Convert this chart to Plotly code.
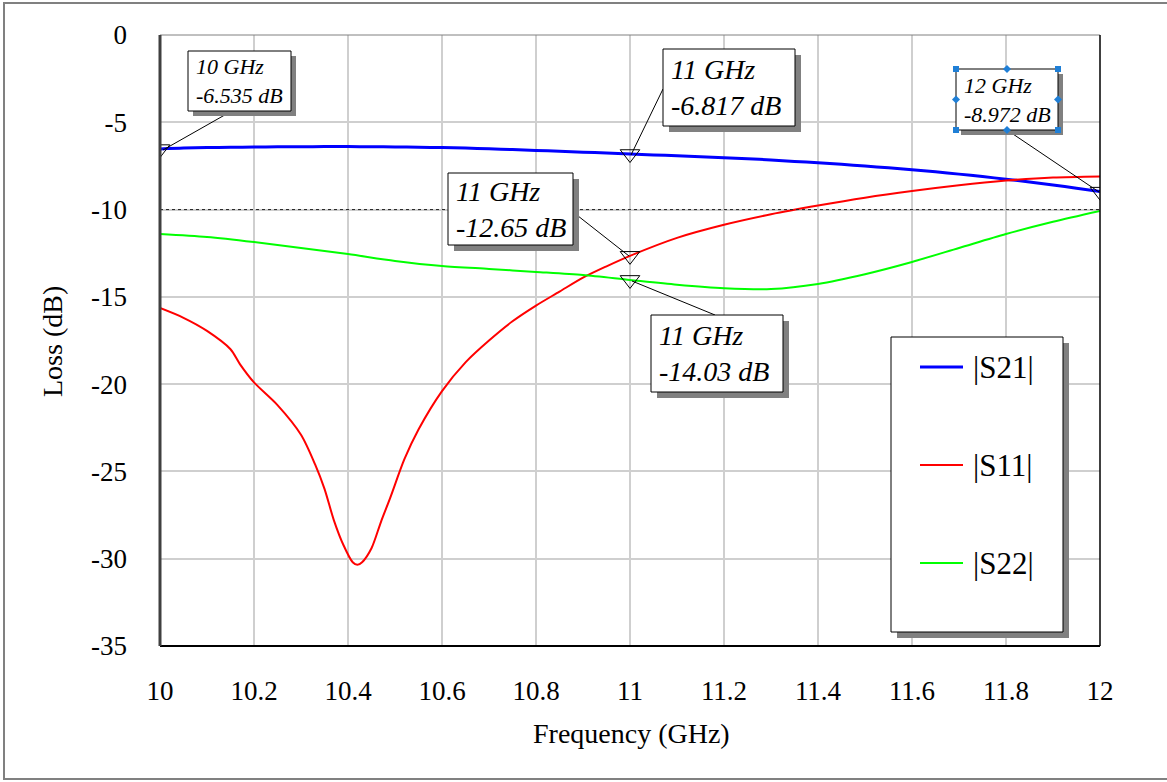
import plotly.graph_objects as go

# ---------------- data ----------------
freq_s21 = [10.00, 10.05, 10.10, 10.15, 10.20, 10.25, 10.30, 10.35, 10.40, 10.45, 10.50,
            10.55, 10.60, 10.65, 10.70, 10.75, 10.80, 10.85, 10.90, 10.95, 11.00,
            11.05, 11.10, 11.15, 11.20, 11.25, 11.30, 11.35, 11.40, 11.45, 11.50,
            11.55, 11.60, 11.65, 11.70, 11.75, 11.80, 11.85, 11.90, 11.95, 12.00]
s21_db = [-6.535, -6.48, -6.45, -6.43, -6.42, -6.40, -6.40, -6.39, -6.39, -6.40, -6.41,
          -6.43, -6.45, -6.48, -6.52, -6.56, -6.61, -6.66, -6.71, -6.76, -6.817,
          -6.87, -6.92, -6.97, -7.03, -7.09, -7.16, -7.24, -7.32, -7.41, -7.51,
          -7.61, -7.72, -7.84, -7.97, -8.11, -8.26, -8.42, -8.59, -8.78, -8.972]

freq_s11 = [10.00, 10.05, 10.10, 10.15, 10.17, 10.20, 10.25, 10.30, 10.33, 10.35, 10.37,
            10.39, 10.41, 10.42, 10.43, 10.45, 10.47, 10.49, 10.52, 10.55, 10.60,
            10.65, 10.70, 10.75, 10.80, 10.85, 10.90, 10.95, 11.00, 11.10, 11.20,
            11.30, 11.40, 11.50, 11.60, 11.70, 11.80, 11.90, 12.00]
s11_db = [-15.64, -16.2, -16.95, -18.0, -18.85, -19.9, -21.2, -22.9, -24.6, -26.0, -27.8,
          -29.2, -30.2, -30.35, -30.2, -29.4, -27.9, -26.5, -24.3, -22.6, -20.4,
          -18.75, -17.5, -16.4, -15.5, -14.7, -13.9, -13.25, -12.65, -11.62, -10.87,
          -10.27, -9.77, -9.32, -8.94, -8.61, -8.34, -8.16, -8.1]

freq_s22 = [10.0, 10.1, 10.2, 10.3, 10.4, 10.5, 10.6, 10.7, 10.8, 10.9, 11.0,
            11.1, 11.2, 11.3, 11.4, 11.5, 11.6, 11.7, 11.8, 11.9, 12.0]
s22_db = [-11.4, -11.57, -11.86, -12.2, -12.55, -12.94, -13.23, -13.4, -13.57, -13.75, -14.03,
          -14.3, -14.5, -14.55, -14.26, -13.7, -13.0, -12.2, -11.4, -10.7, -10.08]

marker_freq = [10.0, 11.0, 12.0, 11.0, 11.0]
marker_db = [-6.535, -6.817, -8.972, -12.65, -14.03]
marker_text = ["10 GHz<br>-6.535 dB", "11 GHz<br>-6.817 dB", "12 GHz<br>-8.972 dB",
               "11 GHz<br>-12.65 dB", "11 GHz<br>-14.03 dB"]

series_names = ["|S21|", "|S11|", "|S22|"]
series_colors = ["#0000ff", "#ff0000", "#00ff00"]
series_widths = [3, 2, 2]

x_ticks = [10, 10.2, 10.4, 10.6, 10.8, 11, 11.2, 11.4, 11.6, 11.8, 12]
x_tick_labels = ["10", "10.2", "10.4", "10.6", "10.8", "11", "11.2", "11.4", "11.6", "11.8", "12"]
y_ticks = [0, -5, -10, -15, -20, -25, -30, -35]
y_tick_labels = ["0", "-5", "-10", "-15", "-20", "-25", "-30", "-35"]
limit_db = -10

# ---------------- layout helpers ----------------
W, H = 1167, 782
L, R, T, B = 160, 1100, 35, 646
FONT = "Liberation Serif"


def PX(x):
    return (x - L) / (R - L)


def PY(y):
    return (B - y) / (B - T)


fig = go.Figure()
for fx, fy, name, col, w in zip([freq_s21, freq_s11, freq_s22], [s21_db, s11_db, s22_db],
                                series_names, series_colors, series_widths):
    fig.add_trace(go.Scatter(x=fx, y=fy, mode="lines", name=name,
                             line=dict(color=col, width=w, shape="spline", smoothing=0.8),
                             showlegend=False))

fig.add_trace(go.Scatter(x=marker_freq, y=marker_db, mode="markers", showlegend=False,
                         marker=dict(symbol="triangle-down-open", size=17,
                                     color="black", line=dict(width=1, color="black"))))

shapes = []
annotations = []

# limit line
shapes.append(dict(type="line", xref="paper", yref="y", x0=0, x1=1, y0=limit_db, y1=limit_db,
                   line=dict(color="#222222", width=1, dash="dot"), layer="above"))

# frame lines
shapes.append(dict(type="line", xref="paper", yref="paper", x0=0, x1=1, y0=1, y1=1,
                   line=dict(color="#808080", width=1)))
shapes.append(dict(type="line", xref="paper", yref="paper", x0=1, x1=1, y0=0, y1=1,
                   line=dict(color="black", width=1.5)))
shapes.append(dict(type="line", xref="paper", yref="paper", x0=0, x1=1, y0=0, y1=0,
                   line=dict(color="black", width=2)))
shapes.append(dict(type="line", xref="paper", yref="paper", x0=0, x1=0, y0=0, y1=1,
                   line=dict(color="#404040", width=3)))

# outer border
shapes.append(dict(type="rect", xref="paper", yref="paper", x0=PX(4), x1=PX(1175),
                   y0=PY(779), y1=PY(3), line=dict(color="#808080", width=2),
                   fillcolor="rgba(0,0,0,0)", layer="below"))

# marker label boxes: (x0, y0, x1, y1, fontsize, leader start, leader end)
boxes = [
    (188, 51, 291, 111, 22, (230, 112), (163, 150)),
    (663, 49, 795, 126, 28, (663, 89), (631, 155)),
    (956, 69, 1058, 130, 22, (1007, 130), (1099, 192)),
    (448, 173, 573, 245, 28, (573, 212), (629, 256)),
    (651, 315, 783, 392, 28, (715, 315), (632, 281)),
]
for (x0, y0, x1, y1, fs, ls, le), txt in zip(boxes, marker_text):
    off = 6 if fs > 24 else 5
    shapes.append(dict(type="line", xref="paper", yref="paper", x0=PX(ls[0]), y0=PY(ls[1]),
                       x1=PX(le[0]), y1=PY(le[1]), line=dict(color="black", width=1),
                       layer="above"))
    shapes.append(dict(type="rect", xref="paper", yref="paper", x0=PX(x0 + off), x1=PX(x1 + off),
                       y0=PY(y1 + off), y1=PY(y0 + off), line=dict(width=0),
                       fillcolor="#808080", layer="above"))
    shapes.append(dict(type="rect", xref="paper", yref="paper", x0=PX(x0), x1=PX(x1),
                       y0=PY(y1), y1=PY(y0), line=dict(color="black", width=1),
                       fillcolor="white", layer="above"))
    annotations.append(dict(xref="paper", yref="paper", x=PX(x0 + 6), y=PY((y0 + y1) / 2),
                            xanchor="left", yanchor="middle", align="left", showarrow=False,
                            text="<i>" + txt + "</i>",
                            font=dict(family=FONT, size=fs, color="black")))

# selection handles on 12 GHz box
hx0, hy0, hx1, hy1 = 956, 69, 1058, 130
hc = "#1f7fd6"
for cx, cy in [(hx0, hy0), (hx1, hy0), (hx0, hy1), (hx1, hy1)]:
    shapes.append(dict(type="rect", xref="paper", yref="paper", x0=PX(cx - 3), x1=PX(cx + 3),
                       y0=PY(cy + 3), y1=PY(cy - 3), line=dict(width=0), fillcolor=hc,
                       layer="above"))
for cx, cy in [((hx0 + hx1) / 2, hy0), ((hx0 + hx1) / 2, hy1), (hx0, (hy0 + hy1) / 2),
               (hx1, (hy0 + hy1) / 2)]:
    path = "M {} {} L {} {} L {} {} L {} {} Z".format(PX(cx - 4), PY(cy), PX(cx), PY(cy - 4),
                                                      PX(cx + 4), PY(cy), PX(cx), PY(cy + 4))
    shapes.append(dict(type="path", xref="paper", yref="paper", path=path,
                       line=dict(width=0), fillcolor=hc, layer="above"))

# legend box
lx0, ly0, lx1, ly1 = 891, 337, 1063, 632
shapes.append(dict(type="rect", xref="paper", yref="paper", x0=PX(lx0 + 6), x1=PX(lx1 + 6),
                   y0=PY(ly1 + 6), y1=PY(ly0 + 6), line=dict(width=0), fillcolor="#808080",
                   layer="above"))
shapes.append(dict(type="rect", xref="paper", yref="paper", x0=PX(lx0), x1=PX(lx1),
                   y0=PY(ly1), y1=PY(ly0), line=dict(color="black", width=1),
                   fillcolor="white", layer="above"))
for i, (name, col, w) in enumerate(zip(series_names, series_colors, series_widths)):
    yy = 367 + i * 98
    shapes.append(dict(type="line", xref="paper", yref="paper", x0=PX(920), x1=PX(963),
                       y0=PY(yy), y1=PY(yy), line=dict(color=col, width=w), layer="above"))
    annotations.append(dict(xref="paper", yref="paper", x=PX(971), y=PY(yy), xanchor="left",
                            yanchor="middle", showarrow=False, text=name,
                            font=dict(family=FONT, size=31, color="black")))

# axis titles
annotations.append(dict(xref="paper", yref="paper", x=PX(631), y=PY(733), xanchor="center",
                        yanchor="middle", showarrow=False, text="Frequency (GHz)",
                        font=dict(family=FONT, size=28, color="black")))
annotations.append(dict(xref="paper", yref="paper", x=PX(52), y=PY(342), xanchor="center",
                        yanchor="middle", showarrow=False, text="Loss (dB)", textangle=-90,
                        font=dict(family=FONT, size=28, color="black")))

fig.update_layout(
    width=W, height=H,
    margin=dict(l=L, r=W - R, t=T, b=H - B, pad=0),
    paper_bgcolor="white", plot_bgcolor="white",
    font=dict(family=FONT, size=27, color="black"),
    shapes=shapes, annotations=annotations, showlegend=False,
    xaxis=dict(range=[10, 12], tickvals=x_ticks, ticktext=x_tick_labels, showgrid=True,
               gridcolor="#cfcfcf", gridwidth=1.5, zeroline=False, showline=False,
               ticks="", ticklabelstandoff=26, tickfont=dict(family=FONT, size=27)),
    yaxis=dict(range=[-35, 0], tickvals=y_ticks, ticktext=y_tick_labels, showgrid=True,
               gridcolor="#cfcfcf", gridwidth=1.5, zeroline=False, showline=False,
               ticks="", ticklabelstandoff=32, tickfont=dict(family=FONT, size=27)),
)

fig.write_html("out.html", config={"displayModeBar": False},
               post_script="document.body.style.margin='0';document.body.style.overflow='hidden';")
